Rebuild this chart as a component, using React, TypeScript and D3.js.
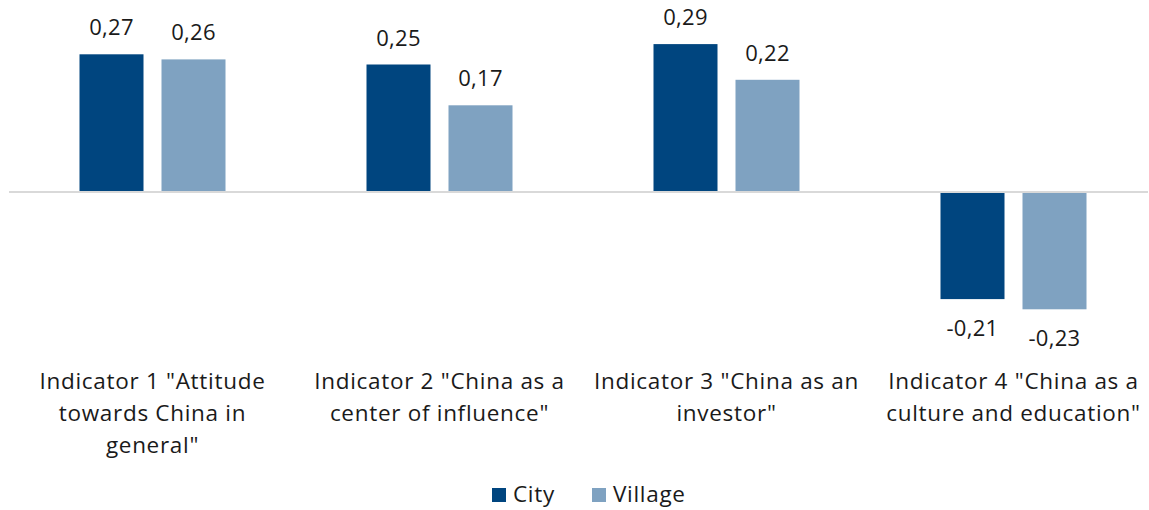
import { useEffect, useRef } from 'react';
import * as d3 from 'd3';

const categories = ['ind1', 'ind2', 'ind3', 'ind4'];
const categoryLabels = [
  ['Indicator 1 "Attitude', 'towards China in', 'general"'],
  ['Indicator 2 "China as a', 'center of influence"'],
  ['Indicator 3 "China as an', 'investor"'],
  ['Indicator 4 "China as a', 'culture and education"'],
];
const seriesNames = ['City', 'Village'];
const cityValues = [0.27, 0.25, 0.29, -0.21];
const villageValues = [0.26, 0.17, 0.22, -0.23];
const seriesColors = ['#00457f', '#7fa2c1'];

export default function App() {
  const svgRef = useRef<SVGSVGElement>(null);

  useEffect(() => {
    if (!svgRef.current) return;
    const svg = d3.select(svgRef.current);
    svg.selectAll('*').remove();

    const width = 1149;
    const height = 510;
    const font = '"Open Sans", sans-serif';
    svg.attr('viewBox', `0 0 ${width} ${height}`);

    const xScale = d3.scaleBand<string>()
      .domain(categories)
      .range([9, 1157])
      .paddingInner(0)
      .paddingOuter(0);

    const xInner = d3.scaleBand<string>()
      .domain(seriesNames)
      .range([70.5, 70.5 + 146])
      .paddingInner(18 / 146 * 2 / (1 + 18 / 146));

    // zero at y=192, ~510px per unit
    const yScale = d3.scaleLinear()
      .domain([-0.25, 0.35])
      .range([192 + 0.25 * 510, 192 - 0.35 * 510]);

    const series = [cityValues, villageValues];
    const g = svg.append('g');

    series.forEach((vals, si) => {
      const name = seriesNames[si];
      g.selectAll(`.bar-${si}`)
        .data(vals)
        .enter()
        .append('rect')
        .attr('x', (_, i) => (xScale(categories[i]) as number) + (xInner(name) as number))
        .attr('y', d => yScale(Math.max(0, d)))
        .attr('width', 64)
        .attr('height', d => Math.abs(yScale(d) - yScale(0)))
        .attr('fill', seriesColors[si]);

      g.selectAll(`.lbl-${si}`)
        .data(vals)
        .enter()
        .append('text')
        .attr('x', (_, i) => (xScale(categories[i]) as number) + (xInner(name) as number) + 32)
        .attr('y', d => (d >= 0 ? yScale(d) - 19 : yScale(d) + 37))
        .attr('text-anchor', 'middle')
        .style('font-family', font)
        .style('font-size', '22px')
        .style('letter-spacing', '0.3px')
        .style('fill', '#1a1a1a')
        .text(d => d3.format('.2f')(d).replace('.', ',').replace('\u2212', '-'));
    });

    // Zero line
    g.append('line')
      .attr('x1', 9)
      .attr('x2', 1148)
      .attr('y1', yScale(0))
      .attr('y2', yScale(0))
      .attr('stroke', '#d9d9d9')
      .attr('stroke-width', 2);

    // Category labels
    categories.forEach((c, i) => {
      const cx = (xScale(c) as number) + xScale.bandwidth() / 2;
      const t = g.append('text')
        .attr('text-anchor', 'middle')
        .style('font-family', font)
        .style('font-size', '22.5px')
        .style('letter-spacing', '0.7px')
        .style('fill', '#1a1a1a');
      categoryLabels[i].forEach((line, li) => {
        t.append('tspan')
          .attr('x', cx)
          .attr('y', 389 + li * 32)
          .text(line);
      });
    });

    // Legend
    const legendX = [492, 592];
    seriesNames.forEach((name, i) => {
      g.append('rect')
        .attr('x', legendX[i])
        .attr('y', 488)
        .attr('width', 14)
        .attr('height', 14)
        .attr('fill', seriesColors[i]);
      g.append('text')
        .attr('x', legendX[i] + 21)
        .attr('y', 502)
        .style('font-family', font)
        .style('font-size', '22.5px')
        .style('letter-spacing', '0.7px')
        .style('fill', '#1a1a1a')
        .text(name);
    });
  }, []);

  return (
    <svg
      ref={svgRef}
      width={1149}
      height={510}
      style={{ position: 'absolute', left: 0, top: 0, background: '#fff' }}
    />
  );
}
